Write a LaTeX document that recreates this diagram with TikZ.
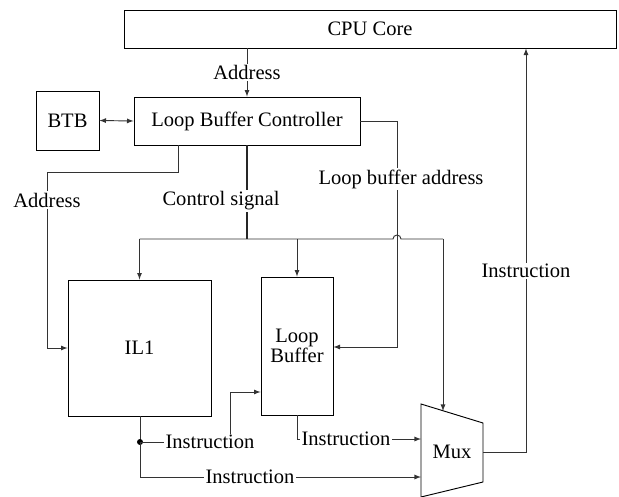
\documentclass[tikz,border=0pt]{standalone}
\usepackage{fontspec}
\setmainfont{LiberationSerif}[Extension=.ttf, UprightFont=*-Regular, BoldFont=*-Bold]

\tikzset{
  blk/.style={draw, line width=0.7pt, inner sep=0pt, align=center},
  lbl/.style={fill=white, text=black, inner sep=1pt},
  wire/.style={line width=0.7pt, black!80},
  bus/.style={line width=1.4pt, black!85},
  >=latex
}

\begin{document}
\begin{tikzpicture}[x=0.75pt, y=-0.75pt, font=\fontsize{15.4}{17}\selectfont]
	\useasboundingbox (0,0) rectangle (619,497);

	% blocks
	\node[blk, minimum width=369pt, minimum height=28.5pt] (cpu) at (370,29) {CPU Core};
	\node[blk, minimum width=169.5pt, minimum height=36pt] (lbc) at (247,121) {Loop Buffer Controller};
	\node[blk, minimum width=47.25pt, minimum height=44.25pt] (btb) at (67.5,120.5) {BTB};
	\node[blk, minimum width=107.25pt, minimum height=102pt] (il1) at (139.5,348) {IL1};
	\node[blk, minimum width=54pt, minimum height=103.5pt] (lb) at (297,346) {Loop\\[-2pt]Buffer};

	% mux
	\coordinate (muxtl) at (421,404);
	\coordinate (muxtr) at (483,423);
	\coordinate (muxbr) at (483,482);
	\coordinate (muxbl) at (421,497);
	\draw[line width=0.7pt] (muxtl) -- (muxtr) -- (muxbr) -- (muxbl) -- cycle;
	\node (mux) at (452,452) {Mux};

	% bend points
	\coordinate (ctl) at (247,239);
	\coordinate (lbaddr) at (397,347);
	\coordinate (tap) at (140,442);

	% address paths
	\draw[wire, ->] (cpu.south -| lbc) -- node[lbl] {Address} (lbc.north);
	\draw[wire, <->] (btb.east) -- (lbc.west);
	\draw[wire, ->] (lbc.south -| 178,0) |- (47,172) |- (il1.west);
	\node[lbl] (addr) at (47,200) {Address};
	\draw[wire, ->] (lbc.east) -| (lbaddr) -- (lb.east |- lbaddr);
	\node[lbl] (lbaddrlbl) at (401,179) {Loop buffer address};

	% control signal
	\draw[bus] (lbc.south) -- (ctl);
	\draw[wire] (il1.north |- ctl) -- (393,239) arc[start angle=180, end angle=0, radius=3pt] -- (443,239);
	\draw[wire, ->] (il1.north |- ctl) -- (il1.north);
	\draw[wire, ->] (lb.north |- ctl) -- (lb.north);
	\draw[wire, ->] (443,239) -- (443,411);
	\node[lbl] (ctllbl) at (221,201) {Control signal};

	% instruction paths
	\draw[wire] (il1.south -| tap) -- (tap);
	\fill (tap) circle [radius=3];
	\draw[wire, ->] (tap) -- (230,442) -- (230,392) -- (lb.west |- 0,392);
	\node[lbl] (ins1) at (210,442) {Instruction};
	\draw[wire, ->] (tap) |- (muxtl |- 0,477);
	\node[lbl] (ins2) at (250,477) {Instruction};
	\draw[wire, ->] (lb.south) |- (muxtl |- 0,439);
	\node[lbl] (ins3) at (346,439) {Instruction};
	\draw[wire, ->] (muxtr |- mux) -| (cpu.south -| 526,0);
	\node[lbl] (ins4) at (526,271) {Instruction};
\end{tikzpicture}
\end{document}
